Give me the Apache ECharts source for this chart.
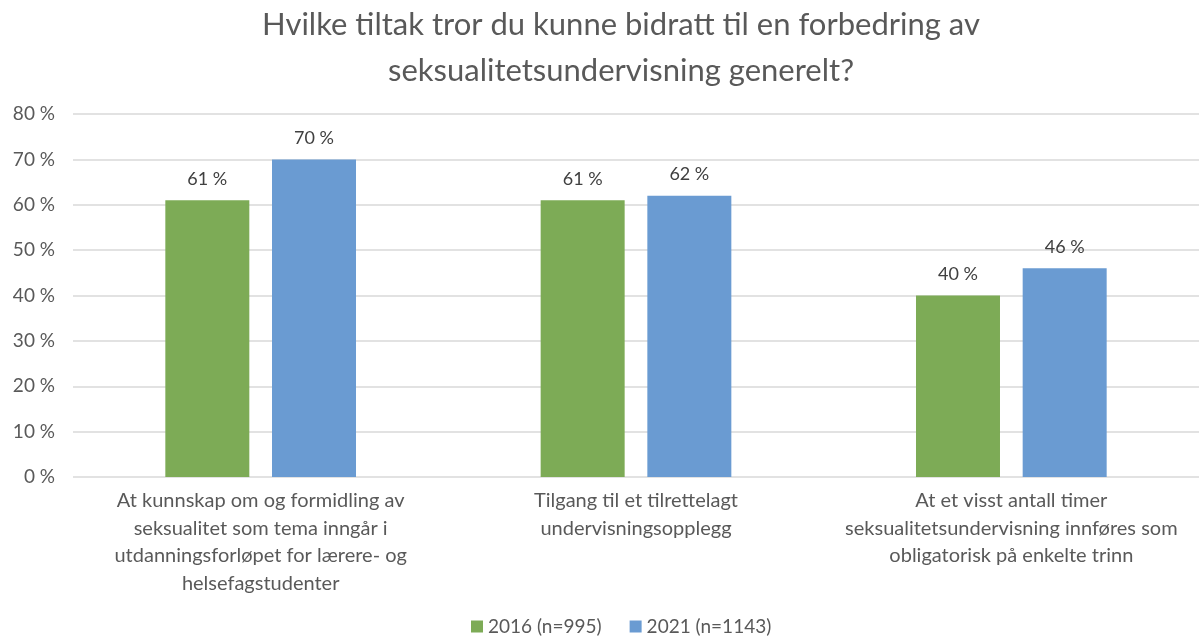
<!DOCTYPE html>
<html>
<head>
<meta charset="utf-8">
<script src="https://cdn.jsdelivr.net/npm/echarts@6/dist/echarts.min.js"></script>
<style>
  html, body { margin: 0; padding: 0; background: #fff; }
  #chart { width: 1199px; height: 639px; }
</style>
</head>
<body>
<div id="chart"></div>
<script>
var categories = [
    'At kunnskap om og formidling av\nseksualitet som tema inngår i\nutdanningsforløpet for lærere- og\nhelsefagstudenter',
    'Tilgang til et tilrettelagt\nundervisningsopplegg',
    'At et visst antall timer\nseksualitetsundervisning innføres som\nobligatorisk på enkelte trinn'
];
var values2016 = [61, 61, 40];
var values2021 = [70, 62, 46];
var seriesNames = ['2016 (n=995)', '2021 (n=1143)'];

var chart = echarts.init(document.getElementById('chart'));

var labelOpt = {
    show: true,
    position: 'top',
    distance: 12,
    formatter: '{c} %',
    color: '#404040',
    fontSize: 18,
    fontFamily: 'Lato'
};

var option = {
    textStyle: { fontFamily: 'Lato' },
    title: {
        text: 'Hvilke tiltak tror du kunne bidratt til en forbedring av\nseksualitetsundervisning generelt?',
        left: 616,
        textAlign: 'center',
        top: -3,
        textStyle: {
            fontSize: 31,
            fontWeight: 'normal',
            color: '#595959',
            lineHeight: 46,
            fontFamily: 'Lato'
        }
    },
    legend: {
        bottom: -2,
        left: 466,
        itemWidth: 12,
        itemHeight: 12,
        itemGap: 28,
        icon: 'rect',
        textStyle: { fontSize: 19, color: '#595959', fontFamily: 'Lato' },
        data: seriesNames
    },
    grid: {
        left: 73,
        right: -4,
        top: 114,
        bottom: 162,
        containLabel: false
    },
    xAxis: {
        type: 'category',
        data: categories,
        axisLine: { show: false },
        axisTick: { show: false },
        axisLabel: {
            color: '#595959',
            fontSize: 20,
            lineHeight: 27.5,
            margin: 10,
            interval: 0,
            fontFamily: 'Lato'
        }
    },
    yAxis: {
        type: 'value',
        min: 0,
        max: 80,
        interval: 10,
        axisLabel: {
            formatter: '{value} %',
            color: '#595959',
            fontSize: 19,
            margin: 18,
            fontFamily: 'Lato'
        },
        splitLine: { lineStyle: { color: '#d9d9d9', width: 1.5 } }
    },
    series: [
        {
            name: seriesNames[0],
            type: 'bar',
            data: values2016,
            barWidth: 84,
            barGap: '27%',
            itemStyle: { color: '#7dab56' },
            label: labelOpt
        },
        {
            name: seriesNames[1],
            type: 'bar',
            data: values2021,
            barWidth: 84,
            itemStyle: { color: '#6a9bd2' },
            label: labelOpt
        }
    ]
};

chart.setOption(option);
</script>
</body>
</html>
